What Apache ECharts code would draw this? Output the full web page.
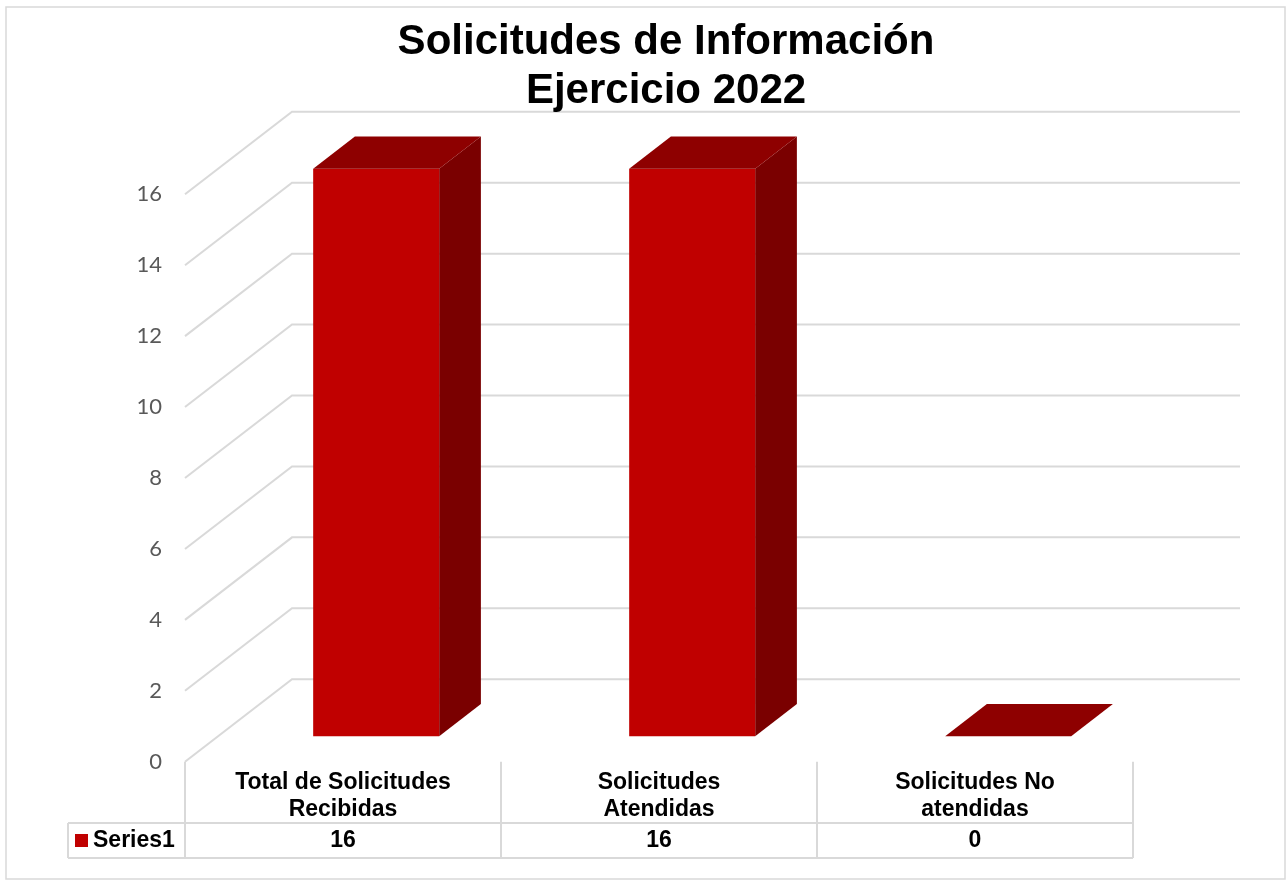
<!DOCTYPE html>
<html>
<head>
<meta charset="utf-8">
<script src="https://cdn.jsdelivr.net/npm/echarts@6/dist/echarts.min.js"></script>
<style>
  html, body { margin: 0; padding: 0; background: #fff; }
  #chart { width: 1288px; height: 882px; }
</style>
</head>
<body>
<div id="chart"></div>
<script>
let categories = ['Total de Solicitudes\nRecibidas', 'Solicitudes\nAtendidas', 'Solicitudes No\natendidas'];
let values = [16, 16, 0];
let seriesName = 'Series1';
let yTicks = [0, 2, 4, 6, 8, 10, 12, 14, 16];

// perspective offset from floor front edge to back wall
let DX = 107, DY = -82.5;
let barFront = 0.31, barDepth = 0.39;   // fraction of depth
let barWidth = 126;

let gridLeft = 185, gridRight = 155, gridTop = 194.3, gridBottom = 120.3;
let lineColor = '#d9d9d9';

let myChart = echarts.init(document.getElementById('chart'));

function gridRender(params, api) {
    let v = api.value(0);
    let cs = params.coordSys;
    let y = api.coord([0, v])[1];
    return {
        type: 'polyline',
        shape: { points: [[cs.x, y], [cs.x + DX, y + DY], [cs.x + cs.width + DX, y + DY]] },
        style: { stroke: lineColor, lineWidth: 2, fill: null },
        silent: true
    };
}

function barRender(params, api) {
    let i = api.value(0);
    let top = api.coord([i, api.value(1)]);
    let base = api.coord([i, 0]);
    let ox = barFront * DX, oy = barFront * DY;
    let dx = barDepth * DX, dy = barDepth * DY;
    let x0 = top[0] + ox - barWidth / 2, x1 = x0 + barWidth;
    let yT = top[1] + oy, yB = base[1] + oy;
    let children = [];
    if (yB - yT > 0.5) {
        children.push({
            type: 'polygon',
            shape: { points: [[x1, yT], [x1 + dx, yT + dy], [x1 + dx, yB + dy], [x1, yB]] },
            style: { fill: '#7a0000' }
        });
        children.push({
            type: 'rect',
            shape: { x: x0, y: yT, width: barWidth, height: yB - yT },
            style: { fill: '#c00000' }
        });
    }
    children.push({
        type: 'polygon',
        shape: { points: [[x0, yT], [x0 + dx, yT + dy], [x1 + dx, yT + dy], [x1, yT]] },
        style: { fill: '#8e0000' }
    });
    return { type: 'group', children: children };
}

function valueRender(params, api) {
    let i = api.value(0);
    let p = api.coord([i, 0]);
    return {
        type: 'text',
        style: {
            x: p[0], y: 841, text: String(api.value(1)),
            fill: '#000', font: 'bold 23px "Liberation Sans", Arial',
            textAlign: 'center', textVerticalAlign: 'middle'
        }
    };
}

// table lines
let tableLines = [];
let colW = (1288 - gridLeft - gridRight) / categories.length;
for (let k = 0; k <= categories.length; k++) {
    let x = gridLeft + k * colW;
    tableLines.push({ type: 'line', shape: { x1: x, y1: 761.7, x2: x, y2: 858 }, style: { stroke: lineColor, lineWidth: 2 } });
}
let tableRight = gridLeft + categories.length * colW;
tableLines.push({ type: 'line', shape: { x1: 68, y1: 823, x2: tableRight, y2: 823 }, style: { stroke: lineColor, lineWidth: 2 } });
tableLines.push({ type: 'line', shape: { x1: 68, y1: 858, x2: tableRight, y2: 858 }, style: { stroke: lineColor, lineWidth: 2 } });
tableLines.push({ type: 'line', shape: { x1: 68, y1: 823, x2: 68, y2: 858 }, style: { stroke: lineColor, lineWidth: 2 } });
tableLines.push({ type: 'rect', shape: { x: 6, y: 7, width: 1279, height: 872 }, style: { stroke: lineColor, lineWidth: 1.5, fill: null } });

let option = {
    backgroundColor: '#fff',
    animation: false,
    title: {
        text: 'Solicitudes de Información\nEjercicio 2022',
        left: 666,
        textAlign: 'center',
        top: 18,
        padding: 0,
        textStyle: {
            fontFamily: '"Liberation Sans", Arial',
            fontWeight: 'bold',
            fontSize: 42,
            lineHeight: 49,
            color: '#000'
        }
    },
    legend: {
        data: [seriesName],
        left: 75,
        top: 829,
        padding: 0,
        icon: 'rect',
        itemWidth: 13,
        itemHeight: 13,
        textStyle: { fontFamily: '"Liberation Sans", Arial', fontWeight: 'bold', fontSize: 23, color: '#000' }
    },
    grid: { left: gridLeft, right: gridRight, top: gridTop, bottom: gridBottom },
    xAxis: {
        type: 'category',
        data: categories,
        axisLine: { show: false },
        axisTick: { show: false },
        splitLine: { show: false },
        axisLabel: {
            margin: 8,
            fontFamily: '"Liberation Sans", Arial',
            fontWeight: 'bold',
            fontSize: 23,
            lineHeight: 26.5,
            color: '#000',
            interval: 0
        }
    },
    yAxis: {
        type: 'value',
        min: 0,
        max: 16,
        interval: 2,
        axisLine: { show: false },
        axisTick: { show: false },
        splitLine: { show: false },
        axisLabel: { margin: 23, fontFamily: 'Lato', fontSize: 22, color: '#595959', padding: [9, 0, 0, 0] }
    },
    graphic: tableLines,
    series: [
        {
            name: 'grid',
            type: 'custom',
            renderItem: gridRender,
            data: yTicks.map(v => [v]),
            encode: { y: 0 },
            silent: true,
            z: 1
        },
        {
            name: seriesName,
            type: 'custom',
            renderItem: barRender,
            itemStyle: { color: '#c00000' },
            data: values.map((v, i) => [i, v]),
            z: 2
        },
        {
            name: 'tabla',
            type: 'custom',
            renderItem: valueRender,
            data: values.map((v, i) => [i, v]),
            silent: true,
            z: 3
        }
    ]
};

myChart.setOption(option, true);
</script>
</body>
</html>
